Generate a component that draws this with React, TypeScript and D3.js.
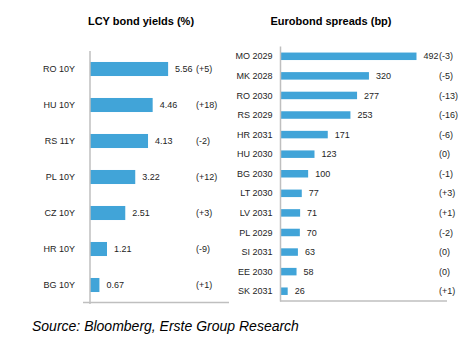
import React from "react";
import * as d3 from "d3";

const lcyCats = ["RO 10Y", "HU 10Y", "RS 11Y", "PL 10Y", "CZ 10Y", "HR 10Y", "BG 10Y"];
const lcyValues = [5.56, 4.46, 4.13, 3.22, 2.51, 1.21, 0.67];
const lcyValueLabels = ["5.56", "4.46", "4.13", "3.22", "2.51", "1.21", "0.67"];
const lcyChanges = ["(+5)", "(+18)", "(-2)", "(+12)", "(+3)", "(-9)", "(+1)"];

const euroCats = ["MO 2029", "MK 2028", "RO 2030", "RS 2029", "HR 2031", "HU 2030", "BG 2030", "LT 2030", "LV 2031", "PL 2029", "SI 2031", "EE 2030", "SK 2031"];
const euroValues = [492, 320, 277, 253, 171, 123, 100, 77, 71, 70, 63, 58, 26];
const euroChanges = ["(-3)", "(-5)", "(-13)", "(-16)", "(-6)", "(0)", "(-1)", "(+3)", "(+1)", "(-2)", "(0)", "(0)", "(+1)"];

const FONT = "'Liberation Sans', Arial, sans-serif";
const BAR = "#41A4D8";
const AXIS = "#BFBFBF";
const TXT = "#1e1e1e";

export default function App() {
  const yL = d3.scaleBand<string>().domain(lcyCats).range([51, 303]).paddingInner(0.61).paddingOuter(0.305);
  const xL = d3.scaleLinear().domain([0, 6]).range([90, 174.3]);
  const yR = d3.scaleBand<string>().domain(euroCats).range([46.5, 301]).paddingInner(0.617).paddingOuter(0.3085);
  const xR = d3.scaleLinear().domain([0, 500]).range([280.5, 418.7]);

  return (
    <svg width={469} height={353} style={{ position: "absolute", left: 0, top: 0, background: "#fff" }} fontFamily={FONT}>
      <text x={141} y={25} textAnchor="middle" fontSize={11} fontWeight="bold" fill="#000">LCY bond yields (%)</text>
      <text x={331} y={25} textAnchor="middle" fontSize={11} fontWeight="bold" fill="#000">Eurobond spreads (bp)</text>

      {/* left chart */}
      {lcyCats.map((c, i) => {
        const y = yL(c)!;
        const bw = yL.bandwidth();
        const cy = y + bw / 2;
        return (
          <g key={c}>
            <rect x={xL(0)} y={y} width={xL(lcyValues[i]) - xL(0)} height={bw} fill={BAR} />
            <text x={75} y={cy} dy="0.35em" textAnchor="end" fontSize={9} fill={TXT}>{c}</text>
            <text x={xL(lcyValues[i]) + 7} y={cy} dy="0.35em" fontSize={9} fill={TXT}>{lcyValueLabels[i]}</text>
            <text x={196} y={cy} dy="0.35em" fontSize={9} fill={TXT}>{lcyChanges[i]}</text>
          </g>
        );
      })}
      <line x1={90} x2={90} y1={51} y2={304} stroke={AXIS} strokeWidth={1.5} />
      <line x1={83} x2={229} y1={302.5} y2={302.5} stroke={AXIS} strokeWidth={1.5} />

      {/* right chart */}
      {euroCats.map((c, i) => {
        const y = yR(c)!;
        const bw = yR.bandwidth();
        const cy = y + bw / 2;
        return (
          <g key={c}>
            <rect x={xR(0)} y={y} width={xR(euroValues[i]) - xR(0)} height={bw} fill={BAR} />
            <text x={272.5} y={cy} dy="0.35em" textAnchor="end" fontSize={9} fill={TXT}>{c}</text>
            <text x={xR(euroValues[i]) + 7} y={cy} dy="0.35em" fontSize={9} fill={TXT}>{euroValues[i]}</text>
            <text x={439} y={cy} dy="0.35em" fontSize={9} fill={TXT}>{euroChanges[i]}</text>
          </g>
        );
      })}
      <line x1={280.5} x2={280.5} y1={46.5} y2={301.5} stroke={AXIS} strokeWidth={1.5} />
      <line x1={280} x2={447} y1={301} y2={301} stroke={AXIS} strokeWidth={1.5} />

      <text x={32} y={331} fontSize={14} fontStyle="italic" fill="#000">Source: Bloomberg, Erste Group Research</text>
    </svg>
  );
}
